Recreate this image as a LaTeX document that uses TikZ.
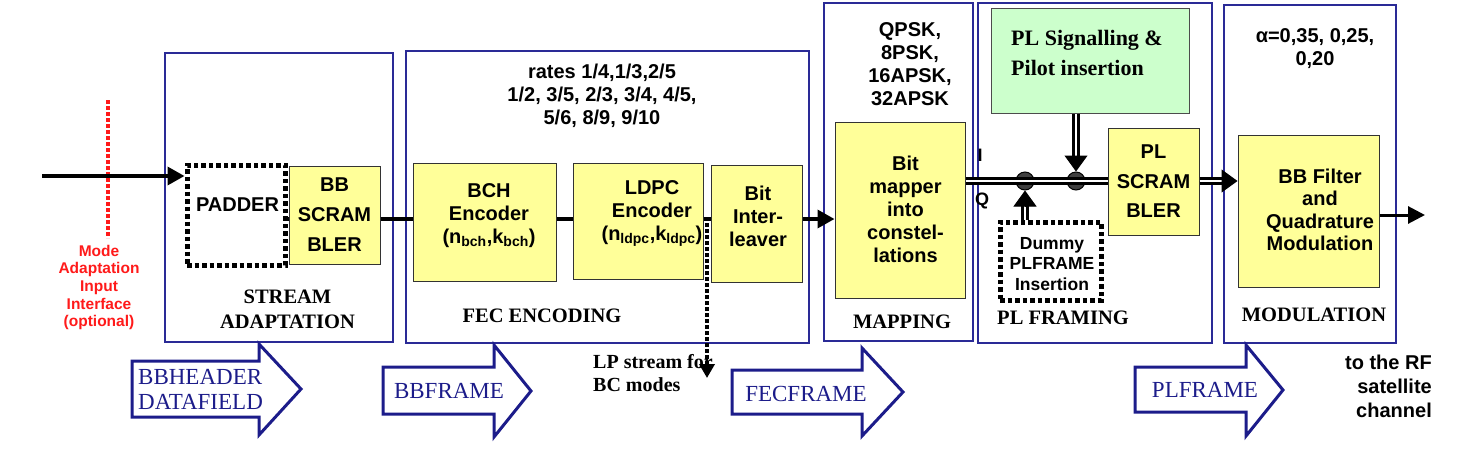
\documentclass[tikz,border=0pt]{standalone}
\usepackage{fontspec}
\setmainfont{Liberation Serif}
\setsansfont{Liberation Sans}
\usepackage{tikz}
\usetikzlibrary{arrows.meta,calc,positioning}
\definecolor{secblue}{HTML}{2A2A96}
\definecolor{boxyellow}{HTML}{FFFF99}
\definecolor{boxgreen}{HTML}{CCFFCC}
\definecolor{arrownavy}{HTML}{1C1C8A}
\definecolor{modered}{HTML}{FF1A1A}

\begin{document}
\begin{tikzpicture}[x=1pt,y=-1pt,
  sec/.style={draw=secblue,line width=1.3pt},
  ybox/.style={draw=black!80,line width=1pt,fill=boxyellow,align=center,inner sep=0pt,
    font=\sffamily\bfseries\fontsize{20}{23}\selectfont},
  dotbox/.style={draw,line width=5pt,dash pattern=on 4.5pt off 3pt,inner sep=0pt},
  sigbox/.style={draw=black!70,line width=1pt,fill=boxgreen,inner sep=0pt},
  boxtext/.style={align=center,inner sep=0pt,font=\sffamily\bfseries\fontsize{20}{23}\selectfont},
  heading/.style={align=center,inner sep=0pt,font=\rmfamily\bfseries\fontsize{20.5}{25}\selectfont},
  note/.style={align=center,inner sep=0pt,font=\sffamily\bfseries\fontsize{20}{23}\selectfont},
  link/.style={line width=4pt},
  linkarrow/.style={line width=3.5pt,-{Triangle[length=17pt,width=18pt]}},
  iqline/.style={double,double distance=2pt,line width=2.8pt},
  iqtip/.style={line width=1pt,-{Triangle[length=16pt,width=23pt]}},
  junction/.style={circle,draw,line width=1pt,fill=black!75,minimum size=18pt,inner sep=0pt},
  blockarrow/.style={draw=arrownavy,line width=3pt,fill=white,line join=miter},
  arrowtext/.style={text=arrownavy,inner sep=0pt,font=\rmfamily\fontsize{23}{25}\selectfont}]
  \useasboundingbox (0,0) rectangle (1467,461);

  % processing sections
  \draw[sec] (165,53) rectangle (393,342);
  \draw[sec] (406,51) rectangle (809,343);
  \draw[sec] (824,3) rectangle (973,341);
  \draw[sec] (978,3) rectangle (1212,343);
  \draw[sec] (1224,5) rectangle (1396,343);

  % blocks
  \node[dotbox,minimum width=98pt,minimum height=100pt] (padder) at (236,215) {};
  \node[boxtext] (paddertext) at (237.5,205) {PADDER};
  \node[ybox,minimum width=91pt,minimum height=98pt,font=\sffamily\bfseries\fontsize{20}{30}\selectfont] (bbscr) at (334.5,215) {BB\\SCRAM\\BLER};
  \node[ybox,minimum width=143pt,minimum height=118pt] (bch) at (484.5,222) {};
  \node[boxtext] (bchtext) at (489,215.5) {BCH\\Encoder\\(n\textsubscript{bch},k\textsubscript{bch})};
  \node[ybox,minimum width=130pt,minimum height=116pt] (ldpc) at (638,221) {};
  \node[boxtext] (ldpctext) at (652,213.5) {LDPC\\Encoder\\(n\textsubscript{ldpc},k\textsubscript{ldpc})};
  \node[ybox,minimum width=91pt,minimum height=117pt] (intl) at (756.5,223.5) {};
  \node[boxtext] (intltext) at (758,216) {Bit\\Inter-\\leaver};
  \node[ybox,minimum width=130pt,minimum height=176pt] (mapper) at (900,210) {};
  \node[boxtext] (mappertext) at (905.5,209) {Bit\\mapper\\into\\constel-\\lations};
  \node[sigbox,minimum width=198pt,minimum height=105pt] (sig) at (1090,60.5) {};
  \node[anchor=west,align=left,inner sep=0pt,font=\rmfamily\bfseries\fontsize{22}{30}\selectfont] (sigtext) at (1011,53) {PL Signalling \&\\Pilot insertion};
  \node[ybox,minimum width=91pt,minimum height=107pt,font=\sffamily\bfseries\fontsize{20}{29.5}\selectfont] (plscr) at (1153.5,181.5) {PL\\SCRAM\\BLER};
  \node[dotbox,minimum width=101pt,minimum height=78pt] (dummy) at (1050.5,261) {};
  \node[boxtext,font=\sffamily\bfseries\fontsize{17.5}{20.5}\selectfont] (dummytext) at (1052,264) {Dummy\\PLFRAME\\Insertion};
  \node[ybox,minimum width=141pt,minimum height=152pt] (bbf) at (1308.5,211) {};
  \node[boxtext,font=\sffamily\bfseries\fontsize{20}{22.5}\selectfont] (bbftext) at (1320,210) {BB Filter\\and\\Quadrature\\Modulation};
  \node[junction] (j1) at (1025,181) {};
  \node[junction] (j2) at (1076,181) {};

  % input interface
  \coordinate (in) at (42,176);
  \coordinate (mtop) at (107.5,100);
  \coordinate (mbot) at (107.5,238);
  \draw[modered,line width=4pt,dash pattern=on 3.5pt off 2.5pt] (mtop) -- (mbot);
  \node[note,text=modered,font=\sffamily\bfseries\fontsize{15.5}{17.7}\selectfont] (modetext) at (99,287.5) {Mode\\Adaptation\\Input\\Interface\\(optional)};
  \draw[linkarrow] (in) -- (in -| padder.west);

  % data path
  \coordinate (row) at (0,219);
  \draw[link] (padder.east |- row) -- (bbscr.west |- row);
  \draw[link] (bbscr.east |- row) -- (bch.west |- row);
  \draw[link] (bch.east |- row) -- (ldpc.west |- row);
  \draw[link] (ldpc.east |- row) -- (intl.west |- row);
  \draw[linkarrow] (intl.east |- row) -- (mapper.west |- row);
  \draw[iqline] (mapper.east |- j1) -- (plscr.west |- j1);
  \draw[iqline,shorten >=14pt] (plscr.east |- j1) -- (bbf.west |- j1);
  \draw[iqtip] ($(bbf.west |- j1)+(-16,0)$) -- (bbf.west |- j1);
  \draw[iqline,shorten >=14pt] (j2 |- sig.south) -- (j2.north);
  \draw[iqtip] ($(j2.north)+(0,-16)$) -- (j2.north);
  \draw[iqline,shorten >=14pt] (j1 |- dummy.north) -- (j1.south);
  \draw[iqtip] ($(j1.south)+(0,16)$) -- (j1.south);
  \node[note,font=\sffamily\bfseries\fontsize{18}{20}\selectfont] (ilab) at (980,155) {I};
  \node[note,font=\sffamily\bfseries\fontsize{18}{20}\selectfont] (qlab) at (982,201) {Q};
  \coordinate (out) at (1425,215);
  \draw[line width=3pt,-{Triangle[length=17pt,width=17pt]}] (bbf.east |- out) -- (out);

  % parameters and section names
  \node[note] (rates) at (602,96) {rates 1/4,1/3,2/5\\1/2, 3/5, 2/3, 3/4, 4/5,\\5/6, 8/9, 9/10};
  \node[note] (constel) at (910,64) {QPSK,\\8PSK,\\16APSK,\\32APSK};
  \node[note] (rolloff) at (1315,48.5) {α=0,35, 0,25,\\0,20};
  \node[heading] (streamlab) at (287.5,309.5) {STREAM\\ADAPTATION};
  \node[heading] (feclab) at (542,316) {FEC ENCODING};
  \node[heading] (maplab) at (902,322) {MAPPING};
  \node[heading] (framlab) at (1063,318) {PL FRAMING};
  \node[heading] (modlab) at (1314,315) {MODULATION};

  % frame formats
  \draw[blockarrow] (132,361) -- (259,361) -- (259,344) -- (301,389) -- (259,435) -- (259,417) -- (132,417) -- cycle;
  \node[arrowtext,anchor=west,align=left] (bbheader) at (138,389) {BBHEADER\\DATAFIELD};
  \draw[blockarrow] (383,367) -- (494,367) -- (494,345) -- (531,391) -- (494,437) -- (494,414) -- (383,414) -- cycle;
  \node[arrowtext] (bbframe) at (449,391) {BBFRAME};
  \draw[blockarrow] (732,370) -- (862,370) -- (862,348) -- (903,392) -- (862,436) -- (862,414) -- (732,414) -- cycle;
  \node[arrowtext] (fecframe) at (806,394) {FECFRAME};
  \draw[blockarrow] (1135,367) -- (1246,367) -- (1246,345) -- (1283,390) -- (1246,436) -- (1246,412) -- (1135,412) -- cycle;
  \node[arrowtext] (plframe) at (1205,390) {PLFRAME};

  % side outputs
  \node[anchor=west,align=left,inner sep=0pt,font=\rmfamily\bfseries\fontsize{20}{23}\selectfont] (lptext) at (593,373.5) {LP stream for\\BC modes};
  \coordinate (lpstart) at (707,217);
  \coordinate (lpend) at (707,378);
  \draw[line width=4pt,dash pattern=on 3.5pt off 2.5pt,-{Triangle[length=14pt,width=15pt]}] (lpstart) -- (lpend);
  \node[anchor=east,align=right,inner sep=0pt,font=\sffamily\bfseries\fontsize{20}{24}\selectfont] (rftext) at (1432,386) {to the RF\\satellite\\channel};
\end{tikzpicture}
\end{document}
